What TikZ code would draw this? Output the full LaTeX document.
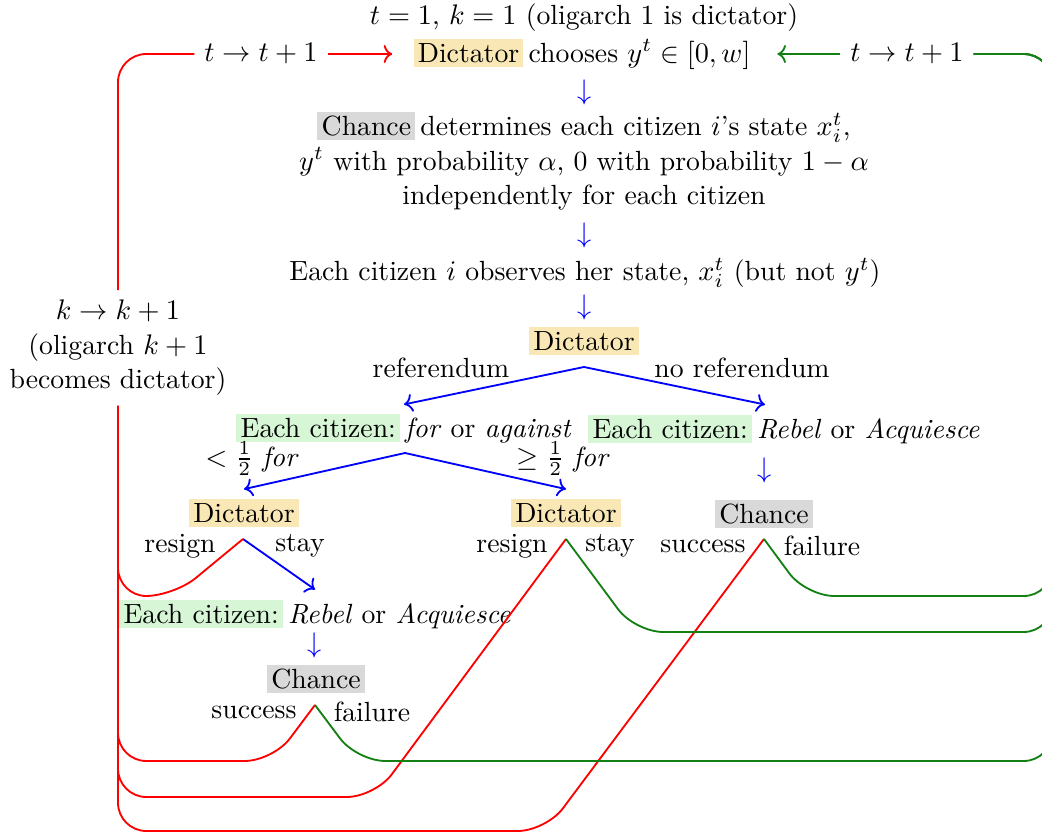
\documentclass[tikz,border=0pt]{standalone}
\usetikzlibrary{arrows.meta}
\definecolor{dictcol}{RGB}{249,231,181}
\definecolor{chancecol}{RGB}{217,217,217}
\definecolor{citcol}{RGB}{214,246,214}
\definecolor{grn}{RGB}{20,128,20}
\newcommand{\hlbox}[2]{{\setlength{\fboxsep}{1.5pt}\colorbox{#1}{#2}}}
\newcommand{\Dict}{\hlbox{dictcol}{Dictator}}
\newcommand{\Chc}{\hlbox{chancecol}{Chance}}
\newcommand{\Cit}{\hlbox{citcol}{Each citizen:}}
\newcommand{\hsp}{\hspace{1.8pt}}
\tikzset{
  darr/.style={text=blue, inner sep=1pt},
  bl/.style={blue, line width=0.65pt, ->},
  rd/.style={red, line width=0.65pt, rounded corners=10pt},
  gr/.style={grn, line width=0.65pt, rounded corners=10pt},
}
\begin{document}
\begin{tikzpicture}[x=0.3533pt,y=-0.3533pt,
  every node/.style={font=\fontsize{9.8}{12.2}\selectfont}]
\useasboundingbox (0,0) rectangle (1042,833);
% top
\node (title) at (584,18) {$t=1$, $k=1$ (oligarch 1 is dictator)};
\node (choose) at (582,54) {\Dict\hsp chooses $y^t\in[0,w]$};
\node (tl) at (261,54) {$t\to t+1$};
\node (tr) at (907,54) {$t\to t+1$};
\node[darr] (d1) at (585,92) {$\downarrow$};
\node[align=center] (chance1) at (584,161) {\Chc\hsp determines each citizen $i$'s state $x_i^t$,\\ $y^t$ with probability $\alpha$, 0 with probability $1-\alpha$\\ independently for each citizen};
\node[darr] (d2) at (585,235) {$\downarrow$};
\node (obs) at (585,273) {Each citizen $i$ observes her state, $x_i^t$ (but not $y^t$)};
\node[darr] (d3) at (585,307) {$\downarrow$};
\node (dict2) at (584,341) {\Dict};
\coordinate (a1) at (584,367);
\node (lref) at (441,368) {referendum};
\node (lnoref) at (742,368) {no referendum};
\node (efa) at (404,429) {\Cit\hsp \emph{for} or \emph{against}};
\node (era) at (784,429) {\Cit\hsp \emph{Rebel} or \emph{Acquiesce}};
\node[darr] (d4) at (765,470) {$\downarrow$};
\coordinate (a2) at (405,453);
\node (llt) at (252,459) {$<\frac12$ \emph{for}};
\node (lge) at (563,459) {$\geq\frac12$ \emph{for}};
\node (dict3) at (244,513) {\Dict};
\node (dict4) at (566,513) {\Dict};
\node (chance2) at (764,514) {\Chc};
\node (r1) at (180,546) {resign};
\node (s1) at (300,546) {stay};
\node (r2) at (512,546) {resign};
\node (s2) at (610,546) {stay};
\node (su1) at (703,546) {success};
\node (f1) at (822,546) {failure};
\coordinate (p1) at (243,539);
\coordinate (p2) at (566,539);
\coordinate (p3) at (764,539);
\node (era2) at (315,614) {\Cit\hsp \emph{Rebel} or \emph{Acquiesce}};
\node[darr] (d5) at (315,645) {$\downarrow$};
\node (chance3) at (316,679) {\Chc};
\node (su2) at (254,712) {success};
\node (f2) at (372,712) {failure};
\coordinate (p4) at (315,705);
\node[align=center] (kl) at (118,348) {$k\to k+1$\\(oligarch $k+1$\\becomes dictator)};
% blue
\draw[bl] (a1) -- (efa.north);
\draw[bl] (a1) -- (era.north -| d4);
\draw[bl] (a2) -- (dict3.north);
\draw[bl] (a2) -- (dict4.north);
\draw[bl] (p1) -- (era2.north);
% red
\draw[rd,->,shorten >=4pt] (tl.east) -- (choose.west);
\draw[rd] (kl.north) -- (118,54) -- (tl.west);
\draw[rd] (p1) -- (174,596) -- (118,596) -- (kl.south);
\draw[rd] (p4) -- (273,761) -- (118,761) -- (kl.south);
\draw[rd] (p2) -- (375,797) -- (118,797) -- (kl.south);
\draw[rd] (p3) -- (546,831) -- (118,831) -- (kl.south);
% green
\draw[gr,->,shorten >=6pt] (tr.west) -- (choose.east);
\draw[gr] (p3) -- (806,596) -- (1052,596) -- (1052,54) -- (tr.east);
\draw[gr] (p2) -- (635,632) -- (1052,632) -- (1052,54) -- (tr.east);
\draw[gr] (p4) -- (357,761) -- (1052,761) -- (1052,54) -- (tr.east);
\end{tikzpicture}
\end{document}
